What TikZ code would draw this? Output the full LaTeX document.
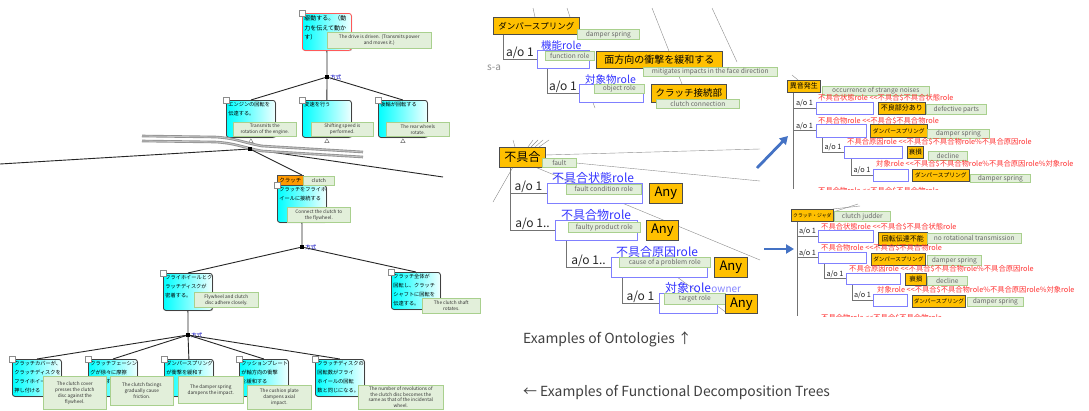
\documentclass[tikz,border=0pt]{standalone}
\usepackage{fontspec}
\setmainfont{Noto Sans CJK JP}
\usetikzlibrary{positioning,shadows,arrows.meta,shapes.geometric}

\definecolor{ogold}{HTML}{FFC000}
\definecolor{engfill}{HTML}{E2EFDA}
\definecolor{engdraw}{HTML}{A9D08E}
\definecolor{rolblue}{HTML}{3333FF}
\definecolor{rolbox}{HTML}{8080FF}
\definecolor{redtxt}{HTML}{FF3333}
\definecolor{arrblue}{HTML}{4472C4}

\begin{document}
\begin{tikzpicture}[x=1pt,y=-1pt,
fbox/.style={draw=black!75,line width=.8pt,rounded corners=2.5pt,left color=cyan,right color=cyan!6,
  drop shadow={shadow xshift=.8pt,shadow yshift=-.8pt,opacity=.5},anchor=north west,
  minimum width=49pt,minimum height=37pt,inner sep=0pt},
ftxt/.style={anchor=north west,inner sep=2.2pt,align=left,font=\fontsize{5.2}{9}\selectfont},
en/.style={draw=engdraw,fill=engfill,line width=.6pt,anchor=north west,inner sep=.5pt,align=center,
  font=\fontsize{4.7}{6}\selectfont,text=black!80},
ten/.style={en,font=\fontsize{6.6}{7}\selectfont,text=black!60},
sq/.style={draw=black!45,fill=white,minimum size=6.5pt,inner sep=0pt},
jn/.style={fill=black,minimum size=4pt,inner sep=0pt},
way/.style={text=blue!75!black,font=\fontsize{5.5}{6}\selectfont,inner sep=1pt},
tri/.style={draw=black!60,regular polygon,regular polygon sides=3,minimum size=5pt,inner sep=0pt},
tree/.style={draw=black!85,line width=.9pt},
road/.style={draw=gray!85,line width=.9pt,double=gray!45,double distance=.8pt},
ob/.style={draw=black!70,fill=ogold,line width=.6pt,anchor=north west,inner sep=1pt},
rb/.style={draw=rolbox,fill=white,line width=.8pt,anchor=north west,inner sep=0pt},
rl/.style={text=rolblue,anchor=base west,inner sep=0pt},
gl/.style={draw=black!55,line width=.9pt},
ao/.style={anchor=south,inner sep=.8pt,font=\fontsize{12}{12}\selectfont,text=black!85},
ao2/.style={ao,font=\fontsize{7.3}{8}\selectfont},
rtxt/.style={text=redtxt,anchor=west,inner sep=0pt,font=\fontsize{7.3}{8}\selectfont},
faint/.style={draw=black!45,line width=.4pt},
barr/.style={draw=arrblue,line width=2.8pt,-{Triangle[length=8pt,width=9pt]}},
captxt/.style={anchor=west,inner sep=0pt,text=black!75,font=\fontsize{13.9}{15}\selectfont}]

\fill[white] (0,0) rectangle (1089,410);
\useasboundingbox (0,0) rectangle (1089,410);

% functional decomposition tree
\node[fbox,draw=red!65] (root) at (302,13) {};
\node[ftxt,font=\fontsize{6}{9.5}\selectfont] (root-t) at (root.north west) {駆動する。（動\\力を伝えて動か\\す）};
\node[en,minimum width=104pt,minimum height=16pt] (root-e) at (327,32) {The drive is driven. (Transmits power\\and moves it.)};
\node[sq] (root-s) at (root.north west) {};

\node[jn,label={[way]right:方式}] (j1) at (327,77) {};

\node[fbox] (c1) at (226,100) {};
\node[ftxt] (c1-t) at (c1.north west) {エンジンの回転を\\伝達する。};
\node[en,minimum width=63pt,minimum height=14pt] (c1-e) at (233,122) {Transmits the\\rotation of the engine.};
\node[sq] (c1-s) at (c1.north west) {};
\node[fbox] (c2) at (302,100) {};
\node[ftxt] (c2-t) at (c2.north west) {変速を行う};
\node[en,minimum width=62pt,minimum height=14pt] (c2-e) at (311,122) {Shifting speed is\\performed.};
\node[sq] (c2-s) at (c2.north west) {};
\node[fbox] (c3) at (378,100) {};
\node[ftxt] (c3-t) at (c3.north west) {後輪が回転する};
\node[en,minimum width=63pt,minimum height=14pt] (c3-e) at (386,122) {The rear wheels\\rotate.};
\node[sq] (c3-s) at (c3.north west) {};

\draw[tree] (root) -- (j1);
\draw[tree] (j1) -- (c1.north);
\draw[tree] (j1) -- (c2.north);
\draw[tree] (j1) -- (c3.north);

\node[tri] (c1-a) at ([yshift=-3.5pt]c1.south) {};
\node[tri] (c2-a) at ([yshift=-3.5pt]c2.south) {};
\node[tri] (c3-a) at ([yshift=-3.5pt]c3.south) {};

\coordinate (wl) at (0,164);
\coordinate (wr) at (443,177);
\node[jn] (j2) at (250,149) {};
\draw[tree] (wl) -- (j2) -- (wr);

\draw[road] (142,136) -- (215,137) .. controls (235,138) and (245,143) .. (262,146) -- (363,152);
\draw[road] (142,141) -- (215,142) .. controls (235,143) and (245,148) .. (262,151) -- (363,157);
\node[jn] at (j2) {};

\node[fbox] (cl) at (277,185) {};
\node[ob,fill=orange!80!yellow,minimum width=26pt,minimum height=10pt,font=\fontsize{5.5}{6}\selectfont] (cl-g) at (277,175) {クラッチ};
\node[en,minimum width=31pt,minimum height=9pt,font=\fontsize{5}{6}\selectfont] (cl-n) at (303,176) {clutch};
\node[ftxt] (cl-t) at (cl.north west) {クラッチをフライホ\\イールに接続する};
\node[en,minimum width=63pt,minimum height=15pt] (cl-e) at (287,207) {Connect the clutch to\\the flywheel.};
\node[sq] (cl-s) at (cl.north west) {};
\draw[tree] (j2) -- (cl.north |- cl-g.north);

\node[jn,label={[way]right:方式}] (j3) at (302,247) {};
\draw[tree] (cl) -- (j3);

\node[fbox] (d1) at (163,273) {};
\node[ftxt] (d1-t) at (d1.north west) {フライホイールとク\\ラッチディスクが\\密着する。};
\node[en,minimum width=64pt,minimum height=15pt] (d1-e) at (194,292) {Flywheel and clutch\\disc adhere closely.};
\node[sq] (d1-s) at (d1.north west) {};
\node[fbox] (d2) at (391,272) {};
\node[ftxt] (d2-t) at (d2.north west) {クラッチ全体が\\回転し、クラッチ\\シャフトに回転を\\伝達する。};
\node[en,minimum width=58pt,minimum height=15pt] (d2-e) at (422,298) {The clutch shaft\\rotates.};
\node[sq] (d2-s) at (d2.north west) {};
\draw[tree] (j3) -- (d1.north);
\draw[tree] (j3) -- (d2.north);

\node[jn,label={[way]right:方式}] (j4) at (188,335) {};
\draw[tree] (d1) -- (j4);

\node[fbox] (e1) at (12,359) {};
\node[ftxt] (e1-t) at (e1.north west) {クラッチカバーが、\\クラッチディスクを\\フライホイールに\\押し付ける};
\node[fbox] (e2) at (88,359) {};
\node[ftxt] (e2-t) at (e2.north west) {クラッチフェーシン\\グが徐々に摩擦\\を起こす。};
\node[fbox] (e3) at (164,359) {};
\node[ftxt] (e3-t) at (e3.north west) {ダンパースプリング\\が衝撃を緩和す\\る。};
\node[fbox] (e4) at (239,359) {};
\node[ftxt] (e4-t) at (e4.north west) {クッションプレート\\が軸方向の衝撃\\を緩和する};
\node[fbox] (e5) at (315,359) {};
\node[ftxt] (e5-t) at (e5.north west) {クラッチディスクの\\回転数がフライ\\ホイールの回転\\数と同じになる。};
\draw[tree] (j4) -- (e1.north);
\draw[tree] (j4) -- (e2.north);
\draw[tree] (j4) -- (e3.north);
\draw[tree] (j4) -- (e4.north);
\draw[tree] (j4) -- (e5.north);
\node[en,minimum width=63pt,minimum height=33pt] (e1-e) at (43,376) {The clutch cover\\presses the clutch\\disc against the\\flywheel.};
\node[en,minimum width=63pt,minimum height=29pt] (e2-e) at (110,376) {The clutch facings\\gradually cause\\friction.};
\node[en,minimum width=65pt,minimum height=27pt] (e3-e) at (178,376) {The damper spring\\dampens the impact.};
\node[en,minimum width=64pt,minimum height=24pt] (e4-e) at (247,385) {The cushion plate\\dampens axial\\impact.};
\node[en,minimum width=85pt,minimum height=24pt,font=\fontsize{4.7}{5.6}\selectfont] (e5-e) at (358,385) {The number of revolutions of\\the clutch disc becomes the\\same as that of the incidental\\wheel.};
\foreach \b in {e1,e2,e3,e4,e5} \node[sq] at (\b.north west) {};

% ontologies: background lines
\draw[faint] (533,8) -- (535,17);
\draw[faint] (567,8) -- (570,17);
\draw[faint] (652,8) -- (682,84);
\draw[faint] (712,8) -- (737,62);
\draw[faint] (592,100) -- (595,108);
\draw[faint] (513,140) -- (515,147);
\draw[faint] (528,147) -- (533,140);
\draw[faint] (531,147) -- (538,140);
\draw[faint] (535,147) -- (543,140);
\draw[faint] (539,147) -- (549,140);
\draw[faint] (513,167) -- (493,202);
\draw[faint] (545,155) -- (760,149);
\draw[faint] (576,163) -- (760,181);
\draw[faint] (535,167) -- (760,260);
\draw[faint] (677,277) -- (727,313);
\draw[faint] (792,75) -- (798,80);
\draw[faint] (833,209) -- (860,206);
\draw[faint] (833,212) -- (858,204);

% ontology: damper spring
\node[ob,minimum width=86pt,minimum height=17pt,font=\fontsize{8.5}{9}\selectfont] (dsp) at (493,17) {ダンパースプリング};
\node[ten,minimum width=62pt,minimum height=10pt] (dsp-e) at (577,29) {damper spring};
\node[anchor=west,inner sep=0pt,text=black!45,font=\fontsize{10}{10}\selectfont] (isa) at (487,68) {s-a};
\node[rb,minimum width=52pt,minimum height=18pt] (fr) at (537,50) {};
\node[rl,font=\fontsize{10.5}{11}\selectfont] (fr-l) at (541,49) {機能role};
\node[ten,minimum width=49pt,minimum height=9pt] (fr-e) at (545,51) {function role};
\draw[gl] ([xshift=10pt]dsp.south west) |- node[ao,pos=.75] (ao-fr) {a/o 1} (fr.west);
\node[ob,minimum width=126pt,minimum height=17pt,font=\fontsize{10}{11}\selectfont] (mit) at (596,51) {面方向の衝撃を緩和する};
\node[ten,minimum width=134pt,minimum height=9pt] (mit-e) at (643,67) {mitigates impacts in the face direction};
\node[rb,minimum width=64pt,minimum height=18pt] (obj) at (579,84) {};
\node[rl,font=\fontsize{10.5}{11}\selectfont] (obj-l) at (585,83) {対象物role};
\node[ten,minimum width=50pt,minimum height=9pt] (obj-e) at (594,84) {object role};
\draw[gl] ([xshift=10pt]fr.south west) |- node[ao,pos=.75] (ao-obj) {a/o 1} (obj.west);
\node[ob,minimum width=75pt,minimum height=18pt,font=\fontsize{9.5}{10}\selectfont] (cc) at (651,84) {クラッチ接続部};
\node[ten,minimum width=83pt,minimum height=9pt] (cc-e) at (656,99) {clutch connection};

% ontology: fault
\node[ob,minimum width=46pt,minimum height=20pt,font=\fontsize{12}{12}\selectfont] (flt) at (499,147) {不具合};
\node[ten,minimum width=34pt,minimum height=9pt] (flt-e) at (542,158) {fault};
\node[rb,minimum width=95pt,minimum height=20pt] (fc) at (547,183) {};
\node[rl,font=\fontsize{12}{12}\selectfont] (fc-l) at (552,182) {不具合状態role};
\node[ten,minimum width=75pt,minimum height=10pt] (fc-e) at (566,184) {fault condition role};
\node[ob,minimum width=33pt,minimum height=20pt,font=\fontsize{13}{13}\selectfont] (any1) at (649,183) {Any};
\draw[gl] ([xshift=11pt]flt.south west) |- node[ao,pos=.75] (ao-fc) {a/o 1} (fc.west);
\node[rb,minimum width=82pt,minimum height=20pt] (fp) at (555,220) {};
\node[rl,font=\fontsize{12}{12}\selectfont] (fp-l) at (561,219) {不具合物role};
\node[ten,minimum width=72pt,minimum height=10pt] (fp-e) at (568,222) {faulty product role};
\node[ob,minimum width=32pt,minimum height=20pt,font=\fontsize{13}{13}\selectfont] (any2) at (646,220) {Any};
\draw[gl] ([xshift=11pt]flt.south west) |- node[ao,pos=.75] (ao-fp) {a/o 1..} (fp.west);
\node[rb,minimum width=96pt,minimum height=20pt] (pc) at (611,257) {};
\node[rl,font=\fontsize{12}{12}\selectfont] (pc-l) at (616,256) {不具合原因role};
\node[ten,minimum width=91pt,minimum height=10pt] (pc-e) at (619,257) {cause of a problem role};
\node[ob,minimum width=33pt,minimum height=20pt,font=\fontsize{13}{13}\selectfont] (any3) at (714,257) {Any};
\draw[gl] ([xshift=11pt]fp.south west) |- node[ao,pos=.75] (ao-pc) {a/o 1..} (pc.west);
\node[rb,minimum width=58pt,minimum height=20pt] (tg) at (659,293) {};
\node[rl,font=\fontsize{12}{12}\selectfont] (tg-l) at (665,292) {対象role};
\node[rl,text=rolblue!60,font=\fontsize{10}{10}\selectfont] (tg-o) at (tg-l.base east) {owner};
\node[ten,minimum width=61pt,minimum height=11pt] (tg-e) at (664,293) {target role};
\node[ob,minimum width=32pt,minimum height=19pt,font=\fontsize{13}{13}\selectfont] (any4) at (725,294) {Any};
\draw[gl] ([xshift=11pt]pc.south west) |- node[ao,pos=.75] (ao-tg) {a/o 1} (tg.west);

% arrows
\coordinate (a1s) at (757,168);
\coordinate (a1e) at (788,136);
\draw[barr] (a1s) -- (a1e);
\coordinate (a2s) at (764,249);
\coordinate (a2e) at (794,249);
\draw[barr] (a2s) -- (a2e);

% ontology: strange noises
\node[ob,minimum width=33pt,minimum height=12pt,font=\fontsize{7}{7}\selectfont] (p0) at (787,80) {異音発生};
\node[ten,minimum width=107pt,minimum height=9pt] (p0-e) at (822,86) {occurrence of strange noises};
\coordinate (p0-t) at (793,189);
\draw[gl] ([xshift=6pt]p0.south west) -- (p0-t);
\node[rtxt] (p1-r) at (818,98) {不具合状態role <{}<不具合\$不具合状態role};
\node[rb,minimum width=57pt,minimum height=12pt] (p1) at (816,102) {};
\node[ob,minimum width=47pt,minimum height=12pt,font=\fontsize{7}{7}\selectfont] (p1-v) at (878,102) {不良部分あり};
\node[ten,minimum width=60pt,minimum height=10pt] (p1-e) at (926,104) {defective parts};
\draw[gl] (p1.west -| p0-t) -- node[ao2] (ao-p1) {a/o 1} (p1.west);
\node[rtxt] (p2-r) at (818,121) {不具合物role <{}<不具合\$不具合物role};
\node[rb,minimum width=50pt,minimum height=13pt] (p2) at (816,124) {};
\node[ob,minimum width=57pt,minimum height=13pt,font=\fontsize{5.8}{6}\selectfont] (p2-v) at (870,124) {ダンパースプリング};
\node[ten,minimum width=62pt,minimum height=9pt] (p2-e) at (927,129) {damper spring};
\draw[gl] (p2.west -| p0-t) -- node[ao2] (ao-p2) {a/o 1} (p2.west);
\node[rtxt] (p3-r) at (847,142) {不具合原因role <{}<不具合\$不具合物role\%不具合原因role};
\node[rb,minimum width=58pt,minimum height=12pt] (p3) at (844,146) {};
\node[ob,minimum width=16pt,minimum height=12pt,font=\fontsize{6.5}{7}\selectfont] (p3-v) at (907,146) {衰損};
\node[ten,minimum width=39pt,minimum height=9pt] (p3-e) at (928,151) {decline};
\draw[gl] ([xshift=6pt]p2.south west) |- node[ao2,pos=.75] (ao-p3) {a/o 1} (p3.west);
\node[rtxt] (p4-r) at (876,164) {対象role <{}<不具合\$不具合物role\%不具合原因role\%対象role};
\node[rb,minimum width=35pt,minimum height=12pt] (p4) at (873,169) {};
\node[ob,minimum width=57pt,minimum height=12pt,font=\fontsize{5.8}{6}\selectfont] (p4-v) at (912,169) {ダンパースプリング};
\node[ten,minimum width=60pt,minimum height=8pt] (p4-e) at (970,174) {damper spring};
\draw[gl] ([xshift=7pt]p3.south west) |- node[ao2,pos=.75] (ao-p4) {a/o 1} (p4.west);
\begin{scope}
\clip (800,180) rectangle (1089,189);
\node[rtxt] (p5-r) at (818,190.5) {不具合物role <{}<不具合\$不具合物role};
\end{scope}

% ontology: clutch judder
\node[ob,minimum width=42pt,minimum height=12pt,font=\fontsize{4.8}{5}\selectfont] (q0) at (791,209) {クラッチ・ジャダ};
\node[ten,minimum width=56pt,minimum height=10pt] (q0-e) at (834,211) {clutch judder};
\coordinate (q0-t) at (797,316);
\draw[gl] ([xshift=6pt]q0.south west) -- (q0-t);
\node[rtxt] (q1-r) at (821,227) {不具合状態role <{}<不具合\$不具合状態role};
\node[rb,minimum width=55pt,minimum height=12pt] (q1) at (818,230) {};
\node[ob,minimum width=49pt,minimum height=13pt,font=\fontsize{7}{7}\selectfont] (q1-v) at (878,232) {回転伝達不能};
\node[ten,minimum width=94pt,minimum height=10pt] (q1-e) at (927,233) {no rotational transmission};
\draw[gl] (q1.west -| q0-t) -- node[ao2] (ao-q1) {a/o 1} (q1.west);
\node[rtxt] (q2-r) at (821,248) {不具合物role <{}<不具合\$不具合物role};
\node[rb,minimum width=48pt,minimum height=11pt] (q2) at (818,252) {};
\node[ob,minimum width=54pt,minimum height=12pt,font=\fontsize{5.6}{6}\selectfont] (q2-v) at (871,253) {ダンパースプリング};
\node[ten,minimum width=54pt,minimum height=10pt] (q2-e) at (927,255) {damper spring};
\draw[gl] (q2.west -| q0-t) -- node[ao2] (ao-q2) {a/o 1} (q2.west);
\node[rtxt] (q3-r) at (849,269) {不具合原因role <{}<不具合\$不具合物role\%不具合原因role};
\node[rb,minimum width=54pt,minimum height=11pt] (q3) at (846,273) {};
\node[ob,minimum width=21pt,minimum height=12pt,font=\fontsize{6.5}{7}\selectfont] (q3-v) at (905,273) {衰損};
\node[ten,minimum width=40pt,minimum height=9pt] (q3-e) at (927,276) {decline};
\draw[gl] ([xshift=6pt]q2.south west) |- node[ao2,pos=.75] (ao-q3) {a/o 1} (q3.west);
\node[rtxt] (q4-r) at (877,290) {対象role <{}<不具合\$不具合物role\%不具合原因role\%対象role};
\node[rb,minimum width=34pt,minimum height=12pt] (q4) at (873,294) {};
\node[ob,minimum width=53pt,minimum height=12pt,font=\fontsize{5.6}{6}\selectfont] (q4-v) at (912,295) {ダンパースプリング};
\node[ten,minimum width=56pt,minimum height=9pt] (q4-e) at (967,297) {damper spring};
\draw[gl] ([xshift=6pt]q3.south west) |- node[ao2,pos=.75] (ao-q4) {a/o 1} (q4.west);
\begin{scope}
\clip (800,306) rectangle (1089,316);
\node[rtxt] (q5-r) at (821,317.5) {不具合物role <{}<不具合\$不具合物role};
\end{scope}

% captions
\node[captxt] (cap-o) at (523,339) {Examples of Ontologies ↑};
\node[captxt] (cap-f) at (523,392) {← Examples of Functional Decomposition Trees};
\end{tikzpicture}
\end{document}
